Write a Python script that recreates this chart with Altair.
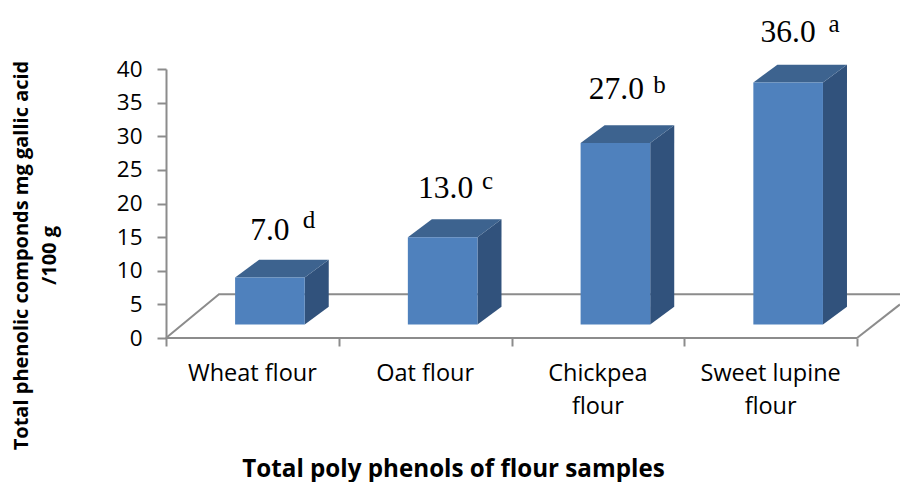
import altair as alt
import pandas as pd

categories = ["Wheat flour", "Oat flour", "Chickpea\nflour", "Sweet lupine\nflour"]
values = [7.0, 13.0, 27.0, 36.0]
letters = ["d", "c", "b", "a"]
y_ticks = [0, 5, 10, 15, 20, 25, 30, 35, 40]
x_ticks = [0, 1, 2, 3, 4]

# pseudo-3D geometry in data units
GAP = 0.40
BAR_W = 0.403
DEPTH_X = 0.139
DEPTH_Y = 2.65
LIFT = 2.0
X_MAX = 734 / 172.75

xs = alt.Scale(domain=[0, X_MAX], nice=False, zero=False)
ys = alt.Scale(domain=[0, 40], nice=False, zero=True)

GREY = "#8c8c8c"
LAB = "Open Sans"

front, side, top = [], [], []
for i, v in enumerate(values):
    x0 = i + GAP
    x1 = x0 + BAR_W
    t = LIFT + v
    front.append(dict(b=i, x=x0, x2=x1, y=LIFT, y2=t))
    side += [dict(b=i, x=x1, y=LIFT, y2=t),
             dict(b=i, x=x1 + DEPTH_X, y=LIFT + DEPTH_Y, y2=t + DEPTH_Y)]
    top += [dict(b=i, x=x0, y=t, y2=t),
            dict(b=i, x=x0 + DEPTH_X, y=t, y2=t + DEPTH_Y),
            dict(b=i, x=x1, y=t, y2=t + DEPTH_Y),
            dict(b=i, x=x1 + DEPTH_X, y=t + DEPTH_Y, y2=t + DEPTH_Y)]

floor = pd.DataFrame([
    dict(s="front", x=0, y=0), dict(s="front", x=4, y=0),
    dict(s="back", x=0, y=0), dict(s="back", x=53 / 172.75, y=6.5), dict(s="back", x=X_MAX, y=6.5),
    dict(s="right", x=4, y=0), dict(s="right", x=X_MAX, y=5.0),
])

x_axis = alt.Axis(
    values=x_ticks, labels=False, domain=False, grid=False,
    tickColor=GREY, tickWidth=2, tickSize=8,
    title="Total poly phenols of flour samples",
    titleFont=LAB, titleFontSize=24.2, titleFontWeight="bold", titleColor="#000000",
    titleX=287, titleY=131, titleBaseline="middle", titleAnchor="middle", titleAlign="center")
y_axis = alt.Axis(
    values=y_ticks, grid=False, domainColor=GREY, domainWidth=2, labelOverlap=False,
    tickColor=GREY, tickWidth=2, tickSize=9, labelPadding=15,
    labelFont=LAB, labelFontSize=22.5, labelColor="#000000",
    title=["Total phenolic componds mg gallic acid", "/100 g"],
    titleFont=LAB, titleFontSize=20, titleFontWeight="bold", titleColor="#000000",
    titleLineHeight=28, titleX=-145, titleY=186, titleAngle=-90,
    titleAlign="center", titleBaseline="middle")

xn = alt.X("x:Q", scale=xs, axis=x_axis)
yn = alt.Y("y:Q", scale=ys, axis=y_axis)

floor_l = alt.Chart(floor).mark_line(color=GREY, strokeWidth=2).encode(
    x=xn, y=yn, detail="s:N", order=alt.Order("x:Q"))

side_l = alt.Chart(pd.DataFrame(side)).mark_area(color="#31527c").encode(
    x=xn, y=yn, y2="y2:Q", detail="b:N")
top_l = alt.Chart(pd.DataFrame(top)).mark_area(color="#3d638f").encode(
    x=xn, y=yn, y2="y2:Q", detail="b:N")
front_l = alt.Chart(pd.DataFrame(front)).mark_rect(color="#4f81bd").encode(
    x=xn, x2="x2:Q", y=yn, y2="y2:Q")

cat_df = pd.DataFrame(dict(x=[i + 0.5 for i in range(4)], c=categories))
cat_l = alt.Chart(cat_df).mark_text(
    font=LAB, fontSize=23.5, lineBreak="\n", lineHeight=33, baseline="top", color="#000000"
).encode(x=xn, y=alt.value(293), text="c:N")

layers = [floor_l, side_l, top_l, front_l, cat_l]

# per-bar nudges of the value annotations (pixels)
num_dx = [0, 3, 1, 0]
num_dy = [-29, -30, -35, -32]
let_dx = [39, 42, 43, 46]
let_dy = [-11, -8, -5, -9]
for i, (v, l) in enumerate(zip(values, letters)):
    df = pd.DataFrame(dict(x=[i + GAP + BAR_W / 2], y=[LIFT + v + DEPTH_Y], t=[f"{v:.1f}"], l=[l]))
    layers.append(alt.Chart(df).mark_text(
        font="Liberation Serif", fontSize=31.5, color="#000000", baseline="middle",
        dx=num_dx[i], dy=num_dy[i]
    ).encode(x=xn, y=yn, text="t:N"))
    layers.append(alt.Chart(df).mark_text(
        font="Liberation Serif", fontSize=25, color="#000000", baseline="middle",
        dx=num_dx[i] + let_dx[i], dy=num_dy[i] + let_dy[i]
    ).encode(x=xn, y=yn, text="l:N"))

chart = alt.layer(*layers).properties(
    width=734, height=269,
    padding={"left": 158, "top": 61, "right": 0, "bottom": 144},
    autosize=alt.AutoSizeParams(type="none"),
).configure_view(stroke=None)

chart.save("out.html", embed_options={"renderer": "svg", "actions": False})
